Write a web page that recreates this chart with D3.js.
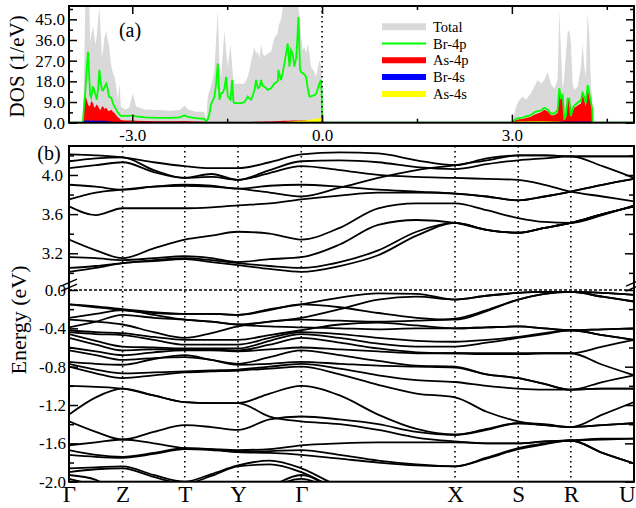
<!DOCTYPE html>
<html><head><meta charset="utf-8">
<script src="https://cdn.jsdelivr.net/npm/d3@7"></script>
<style>html,body{margin:0;padding:0;background:#fff}text{font-family:"Liberation Serif","Times New Roman",serif}</style>
</head><body>
<svg id="chart" width="636" height="508"></svg>
<script>
// ---------- (a) projected density of states ----------
const dosEnergy = [-4.00,-3.79,-3.78,-3.76,-3.74,-3.72,-3.70,-3.68,-3.665,-3.65,-3.62,-3.60,-3.58,-3.56,-3.54,-3.52,-3.50,-3.48,-3.46,-3.44,-3.41,-3.39,-3.37,-3.33,-3.30,-3.28,-3.26,-3.23,-3.20,-3.18,-3.12,-3.05,-2.99,-2.94,-2.80,-2.60,-2.40,-2.25,-2.175,-2.12,-2.00,-1.86,-1.833,-1.806,-1.78,-1.754,-1.72,-1.701,-1.675,-1.648,-1.622,-1.596,-1.569,-1.543,-1.517,-1.49,-1.448,-1.422,-1.40,-1.385,-1.33,-1.28,-1.227,-1.174,-1.148,-1.12,-1.069,-1.043,-1.016,-0.99,-0.964,-0.94,-0.911,-0.858,-0.806,-0.753,-0.70,-0.69,-0.648,-0.62,-0.595,-0.57,-0.543,-0.516,-0.49,-0.465,-0.438,-0.41,-0.395,-0.374,-0.348,-0.332,-0.306,-0.279,-0.253,-0.227,-0.20,-0.174,-0.121,-0.095,-0.042,-0.016,-0.005,0.0,
  2.99,3.012,3.065,3.117,3.17,3.223,3.302,3.354,3.407,3.46,3.512,3.565,3.617,3.67,3.723,3.749,3.775,3.802,3.828,3.854,3.881,3.907,3.933,3.96,3.986,4.039,4.092,4.118,4.144,4.17,4.197,4.223,4.249,4.27,4.276,4.93];
const dosTotal = [0,0,1,24,55,60,60,52,35,38,42,38,34,38,45,50,40,28.7,32,37,40,36,34,24.4,21,20,17,10,17,7,5.7,6.5,12.8,7,5.8,5.5,5.2,5.5,7.5,5.8,4.8,4.8,1,11.3,14,16,20,23.4,36,49,24.4,20,30,40,31,24.4,34,25,18,17,17,17,17,20,23,27,33,30,31,28,34,30,29,30,31,37,38.9,42,45,50,55,55,55,55,55,55,55,55,55,50,44.7,38,31.6,33,30,34.5,30,24.4,22,20,27.3,24.4,20,0,
  0,0.5,7,9.9,11.3,10,12.8,15.7,18.6,17.1,18.6,22,16.9,14.8,18.6,49,31.6,14.3,20,30,39,40.3,34.5,16.9,14.3,15.7,24.4,34.6,24.4,20,47.6,38.9,17,10,0,0];
const dosBr4p = [0,0,0.5,8,14,24,31,20,12,11,15.8,14,12,10,15,23,18,14.3,14,15.5,17,15,11.4,10.7,8,7,6,4.5,3.5,3,3,3,3.2,2.8,2.3,2.1,2.1,2.3,3.2,2.5,2.0,1.7,0.5,1.5,4,8,10,11.3,17,25.8,10,12.8,13,15,20,11.4,10,18.6,9,8.5,8.5,8.5,9,11.4,10.5,10,14,18.6,15,15.5,18.6,16,15.7,14.3,15,17.1,18,23,18.6,22,25.8,30,34.5,24.4,31.6,30,24.4,28,34.5,46,23,22,21.6,21,20,15,11.4,11.5,12,12.5,17.1,18.6,12,0,
  0,0.3,1.8,2.0,2.2,2.8,3.3,4.5,5,5.3,6.5,5.8,4,4,5.5,15,11,12,2,3,10.5,10.5,3,6,7.5,8.7,9.8,13.5,11,8.5,16.4,13,9,6,0,0];
const dosAs4p = [0,0,0.5,9,11.5,10,8,7,7.5,9.5,8.5,6.5,7,8,7,6,5.5,7,7.1,6,6.5,5.5,5,5.6,4.5,4.2,3.5,2.5,1.8,1.2,1,1,1,0.8,0.7,0.6,0.6,0.6,0.7,0.6,0.5,0.4,0.2,0.3,0.3,0.3,0.3,0.3,0.3,0.3,0.3,0.3,0.3,0.3,0.3,0.3,0.3,0.3,0.3,0.3,0.3,0.3,0.3,0.3,0.3,0.3,0.4,0.4,0.4,0.4,0.4,0.4,0.5,0.5,0.5,0.6,0.6,0.7,0.7,0.8,0.8,0.9,0.9,0.9,1.0,1.0,1.0,1.0,1.0,1.0,1.0,1.1,1.1,1.1,1.1,1.1,1.1,1.2,1.2,1.2,1.2,1.2,1.2,0,
  0,0.3,1.2,1.5,1.6,2,2.6,3.5,4,4.5,5.6,5,3.2,3.2,4.2,14,10,11.4,1,2,9.9,9.9,2.4,5,6.5,7.5,8.4,12.5,10,7,15.7,11.4,8.4,5,0,0];
const dosBr4s = [0,0,0.2,0.8,1.0,1.0,1.0,1.0,1.0,1.0,1.0,0.9,0.9,0.9,0.9,0.9,0.8,0.8,0.8,0.8,0.7,0.6,0.5,0.4,0.3,0.3,0.3,0.2,0.2,0.1,0.1,0.1,0.1,0.1,0.1,0.1,0.1,0.1,0.1,0.1,0.1,0.1,0,0,0,0,0,0,0,0,0,0,0,0,0,0,0,0,0,0,0,0,0,0,0,0,0,0,0,0,0,0,0,0,0,0,0,0,0,0,0,0,0,0,0,0,0,0,0,0,0,0,0,0,0,0,0,0,0,0,0,0,0,0,
  0,0,0.1,0.1,0.1,0.1,0.1,0.2,0.2,0.2,0.2,0.2,0.2,0.2,0.3,0.5,0.5,0.5,0.4,0.4,0.5,0.5,0.4,0.4,0.4,0.4,0.4,0.5,0.5,0.4,0.5,0.5,0.4,0.3,0,0];
const dosAs4s = [0,0,0,0.1,0.2,0.2,0.2,0.2,0.2,0.2,0.2,0.2,0.2,0.2,0.2,0.2,0.2,0.2,0.2,0.2,0.2,0.2,0.2,0.2,0.2,0.2,0.2,0.2,0.2,0.2,0.2,0.2,0.2,0.2,0.2,0.2,0.2,0.2,0.2,0.2,0.2,0.1,0,0.1,0.1,0.1,0.1,0.1,0.1,0.1,0.1,0.1,0.1,0.1,0.1,0.1,0.1,0.1,0.1,0.1,0.1,0.1,0.1,0.1,0.1,0.1,0.1,0.1,0.1,0.1,0.1,0.1,0.1,0.1,0.1,0.1,0.2,0.2,0.2,0.3,0.3,0.4,0.4,0.5,0.5,0.6,0.6,0.7,0.7,0.8,0.8,0.9,1.0,1.0,1.1,1.2,1.3,1.4,1.6,1.7,1.9,2.0,2.0,0,
  0,0.2,0.5,0.6,0.6,0.6,0.7,0.7,0.7,0.7,0.7,0.6,0.6,0.5,0.5,0.5,0.4,0.4,0.3,0.3,0.3,0.3,0.3,0.3,0.3,0.3,0.3,0.3,0.3,0.3,0.3,0.3,0.3,0.2,0,0];
const dosSeriesNames = ["Total","Br-4p","As-4p","Br-4s","As-4s"];
const dosSeriesColors = ["#d9d9d9","#00ff00","#ff0000","#0000ff","#ffff00"];
const dosMajorTicks = [0,9,18,27,36,45];
const dosMinorTicks = [4.5,13.5,22.5,31.5,40.5,49.5];
const energyMajorTicks = [-3,0,3];
const energyMinorTicks = [-1.5,1.5,4.5];

// ---------- (b) band structure ----------
const kPointLabels = ["\u0393","Z","T","Y","\u0393","X","S","R","U"];
const kPointDist = [0,0.537,1.160,1.693,2.327,3.867,4.500,5.027,5.660];
const kSamples = [0,0.2685,0.537,0.8485,1.160,1.4265,1.693,2.010,2.327,2.712,3.097,3.482,3.867,4.1835,4.500,4.7635,5.027,5.3435,5.660];
const conductionBands = [
  [4.21,4.20,4.18,4.13,4.09,4.07,4.07,4.13,4.21,4.23,4.22,4.15,4.10,4.17,4.20,4.20,4.19,4.19,4.19],
  [4.14,4.17,4.18,4.05,3.97,4.01,3.95,4.05,4.14,4.15,4.13,4.08,4.06,4.11,4.15,4.17,4.19,4.09,3.97],
  [4.07,4.10,4.13,4.03,3.97,3.98,3.95,4.02,4.09,4.05,4.00,3.98,3.97,3.96,3.95,3.90,3.83,3.78,3.73],
  [3.90,3.88,3.85,3.88,3.90,3.89,3.86,3.89,3.90,3.88,3.85,3.83,3.81,3.78,3.74,3.78,3.83,3.90,3.96],
  [3.75,3.82,3.85,3.88,3.89,3.88,3.86,3.82,3.78,3.87,3.97,4.05,4.10,4.15,4.20,4.20,4.19,4.19,4.19],
  [3.68,3.59,3.66,3.66,3.66,3.67,3.69,3.71,3.75,3.79,3.82,3.82,3.81,3.78,3.74,3.78,3.83,3.90,3.96],
  [3.34,3.23,3.15,3.25,3.34,3.38,3.42,3.40,3.34,3.46,3.66,3.71,3.71,3.64,3.56,3.52,3.51,3.59,3.69],
  [3.16,3.15,3.13,3.15,3.17,3.15,3.11,3.14,3.16,3.29,3.49,3.54,3.51,3.44,3.41,3.46,3.51,3.60,3.68],
  [3.05,3.07,3.10,3.13,3.15,3.13,3.10,3.07,3.05,3.11,3.23,3.42,3.51,3.44,3.41,3.46,3.51,3.60,3.68],
  [3.01,3.05,3.10,3.12,3.14,3.11,3.08,3.04,3.01,3.07,3.18,3.38,3.51,3.44,3.41,3.46,3.51,3.60,3.68]
];
const valenceBands = [
  [-0.15,-0.17,-0.20,-0.23,-0.25,-0.25,-0.26,-0.20,-0.15,-0.08,-0.035,-0.04,-0.10,-0.06,-0.03,-0.02,-0.02,-0.03,-0.05],
  [-0.15,-0.18,-0.21,-0.24,-0.25,-0.25,-0.26,-0.21,-0.15,-0.18,-0.24,-0.29,-0.31,-0.22,-0.10,-0.04,-0.02,-0.07,-0.12],
  [-0.29,-0.25,-0.21,-0.26,-0.31,-0.33,-0.36,-0.33,-0.29,-0.20,-0.10,-0.07,-0.10,-0.06,-0.03,-0.02,-0.02,-0.03,-0.05],
  [-0.31,-0.33,-0.36,-0.44,-0.50,-0.45,-0.38,-0.33,-0.31,-0.32,-0.33,-0.32,-0.30,-0.21,-0.10,-0.04,-0.02,-0.07,-0.12],
  [-0.39,-0.33,-0.26,-0.29,-0.31,-0.33,-0.36,-0.38,-0.39,-0.40,-0.41,-0.40,-0.40,-0.39,-0.38,-0.40,-0.42,-0.41,-0.40],
  [-0.42,-0.44,-0.45,-0.49,-0.52,-0.52,-0.52,-0.47,-0.42,-0.36,-0.34,-0.37,-0.40,-0.39,-0.38,-0.40,-0.42,-0.41,-0.40],
  [-0.44,-0.46,-0.47,-0.52,-0.57,-0.57,-0.57,-0.50,-0.44,-0.46,-0.50,-0.53,-0.54,-0.52,-0.49,-0.45,-0.42,-0.47,-0.52],
  [-0.46,-0.53,-0.59,-0.60,-0.61,-0.61,-0.61,-0.53,-0.46,-0.50,-0.56,-0.59,-0.59,-0.55,-0.50,-0.46,-0.42,-0.47,-0.52],
  [-0.50,-0.57,-0.63,-0.62,-0.62,-0.62,-0.63,-0.57,-0.50,-0.55,-0.61,-0.65,-0.66,-0.66,-0.66,-0.66,-0.66,-0.59,-0.52],
  [-0.60,-0.64,-0.68,-0.65,-0.63,-0.63,-0.64,-0.62,-0.60,-0.62,-0.64,-0.66,-0.66,-0.67,-0.67,-0.66,-0.66,-0.78,-0.89],
  [-0.63,-0.68,-0.73,-0.71,-0.70,-0.73,-0.77,-0.70,-0.63,-0.68,-0.74,-0.79,-0.80,-0.88,-0.92,-0.98,-1.04,-0.96,-0.89],
  [-0.75,-0.77,-0.78,-0.72,-0.68,-0.73,-0.78,-0.77,-0.75,-0.77,-0.79,-0.80,-0.81,-0.88,-0.92,-0.98,-1.04,-1.03,-1.03],
  [-0.77,-0.83,-0.87,-0.86,-0.85,-0.84,-0.83,-0.80,-0.77,-0.82,-0.89,-0.94,-0.96,-1.00,-1.03,-1.04,-1.04,-1.03,-1.03],
  [-0.80,-0.87,-0.92,-0.89,-0.86,-0.85,-0.84,-0.82,-0.80,-0.88,-0.99,-1.08,-1.12,-1.27,-1.37,-1.41,-1.43,-1.30,-1.17],
  [-1.00,-1.01,-1.03,-1.10,-1.17,-1.18,-1.18,-1.08,-1.00,-1.10,-1.30,-1.45,-1.51,-1.45,-1.39,-1.40,-1.43,-1.41,-1.39],
  [-1.30,-1.12,-1.03,-1.10,-1.17,-1.18,-1.18,-1.32,-1.37,-1.40,-1.46,-1.54,-1.58,-1.60,-1.60,-1.58,-1.57,-1.55,-1.55],
  [-1.37,-1.48,-1.56,-1.48,-1.41,-1.43,-1.46,-1.35,-1.32,-1.35,-1.40,-1.48,-1.51,-1.46,-1.39,-1.41,-1.43,-1.41,-1.39],
  [-1.62,-1.59,-1.56,-1.60,-1.65,-1.66,-1.67,-1.66,-1.62,-1.60,-1.59,-1.59,-1.59,-1.60,-1.60,-1.58,-1.57,-1.56,-1.55],
  [-1.67,-1.72,-1.74,-1.70,-1.65,-1.66,-1.69,-1.68,-1.67,-1.72,-1.78,-1.82,-1.84,-1.75,-1.65,-1.60,-1.57,-1.70,-1.81],
  [-1.72,-1.74,-1.75,-1.71,-1.66,-1.67,-1.69,-1.70,-1.72,-1.76,-1.80,-1.83,-1.84,-1.76,-1.66,-1.61,-1.57,-1.70,-1.81],
  [-1.86,-1.85,-1.84,-1.93,-2.00,-1.92,-1.83,-1.78,-1.86,-2.06,-2.25,-2.30,-2.30,-2.30,-2.30,-2.30,-2.30,-2.30,-2.30],
  [-1.90,-1.87,-1.86,-1.95,-2.02,-1.94,-1.84,-1.82,-1.90,-2.10,-2.30,-2.35,-2.35,-2.35,-2.35,-2.35,-2.35,-2.35,-2.35],
  [-1.93,-1.98,-2.15,-2.25,-2.25,-2.25,-2.25,-2.06,-1.93,-2.12,-2.30,-2.40,-2.40,-2.40,-2.40,-2.40,-2.40,-2.40,-2.40],
  [-1.97,-2.05,-2.20,-2.30,-2.30,-2.30,-2.30,-2.08,-1.97,-2.14,-2.32,-2.42,-2.42,-2.42,-2.42,-2.42,-2.42,-2.42,-2.42]
];
const lowerMajorTicks = [0,-0.4,-0.8,-1.2,-1.6,-2.0];
const lowerMinorTicks = [-0.2,-0.6,-1.0,-1.4,-1.8];
const upperMajorTicks = [3.2,3.6,4.0];
const upperMinorTicks = [3.0,3.4,3.8,4.2];

const svg = d3.select("#chart");
const fmt1 = d3.format(".1f");
const fmtTick = v => fmt1(v).replace("\u2212","-");

// ===== panel (a) =====
const A = {left:69, right:634, top:6, bottom:122.7};
const xE = d3.scaleLinear().domain([-4, 4.93]).range([A.left, A.right]);
const yD = d3.scaleLinear().domain([0, 50.8]).range([A.bottom, A.top]);

svg.append("clipPath").attr("id","clipA").append("rect")
  .attr("x",A.left).attr("y",A.top).attr("width",A.right-A.left).attr("height",A.bottom-A.top);
const gA = svg.append("g").attr("clip-path","url(#clipA)");
const dosRows = dosEnergy.map((e,i)=>({e, v:[dosTotal[i],dosBr4p[i],dosAs4p[i],dosBr4s[i],dosAs4s[i]]}));
const areaOf = k => d3.area().x(d=>xE(d.e)).y0(yD(0)).y1(d=>yD(d.v[k]));
gA.append("path").datum(dosRows).attr("d",areaOf(0)).attr("fill",dosSeriesColors[0]);
[2,3,4].forEach(k=>{
  gA.append("path").datum(dosRows).attr("d",areaOf(k)).attr("fill",dosSeriesColors[k]);
});
gA.append("path").datum(dosRows)
  .attr("d",d3.line().x(d=>xE(d.e)).y(d=>yD(d.v[1])))
  .attr("fill","none").attr("stroke",dosSeriesColors[1]).attr("stroke-width",1.8);
// Fermi level
gA.append("line").attr("x1",xE(0)).attr("x2",xE(0)).attr("y1",A.top).attr("y2",A.bottom)
  .attr("stroke","#000").attr("stroke-width",1.6).attr("stroke-dasharray","1.5,3.5");

function styleAxis(g){
  g.select(".domain").remove();
  g.selectAll("line").attr("stroke","#000").attr("stroke-width",1.5);
  g.selectAll("text").attr("fill","#000").style("font-family",'"Liberation Serif","Times New Roman",serif');
}
// x ticks, bottom and top
svg.append("g").attr("transform",`translate(0,${A.bottom})`)
  .call(d3.axisBottom(xE).tickValues(energyMajorTicks).tickSizeInner(-8).tickSizeOuter(0).tickPadding(6).tickFormat(fmtTick))
  .call(styleAxis).selectAll("text").style("font-size","17px");
svg.append("g").attr("transform",`translate(0,${A.bottom})`)
  .call(d3.axisBottom(xE).tickValues(energyMinorTicks).tickSizeInner(-4).tickSizeOuter(0).tickFormat(""))
  .call(styleAxis);
svg.append("g").attr("transform",`translate(0,${A.top})`)
  .call(d3.axisTop(xE).tickValues(energyMajorTicks).tickSizeInner(-8).tickSizeOuter(0).tickFormat(""))
  .call(styleAxis);
svg.append("g").attr("transform",`translate(0,${A.top})`)
  .call(d3.axisTop(xE).tickValues(energyMinorTicks).tickSizeInner(-4).tickSizeOuter(0).tickFormat(""))
  .call(styleAxis);
// y ticks, left and right
svg.append("g").attr("transform",`translate(${A.left},0)`)
  .call(d3.axisLeft(yD).tickValues(dosMajorTicks).tickSizeInner(-8).tickSizeOuter(0).tickPadding(4).tickFormat(fmtTick))
  .call(styleAxis).selectAll("text").style("font-size","17px");
svg.append("g").attr("transform",`translate(${A.left},0)`)
  .call(d3.axisLeft(yD).tickValues(dosMinorTicks).tickSizeInner(-4).tickSizeOuter(0).tickFormat(""))
  .call(styleAxis);
svg.append("g").attr("transform",`translate(${A.right},0)`)
  .call(d3.axisRight(yD).tickValues(dosMajorTicks).tickSizeInner(-8).tickSizeOuter(0).tickFormat(""))
  .call(styleAxis);
svg.append("g").attr("transform",`translate(${A.right},0)`)
  .call(d3.axisRight(yD).tickValues(dosMinorTicks).tickSizeInner(-4).tickSizeOuter(0).tickFormat(""))
  .call(styleAxis);
svg.append("rect").attr("x",A.left).attr("y",A.top).attr("width",A.right-A.left).attr("height",A.bottom-A.top)
  .attr("fill","none").attr("stroke","#000").attr("stroke-width",2);
svg.append("text").attr("x",130).attr("y",37).attr("text-anchor","middle").style("font-size","20px").text("(a)");
svg.append("text").attr("transform",`translate(24,${(A.top+A.bottom)/2+2}) rotate(-90)`)
  .attr("text-anchor","middle").style("font-size","21px").text("DOS (1/eV)");

// legend
const legWidths = [7,2,6,6,6];
const legend = svg.append("g").attr("transform","translate(382,26.7)");
dosSeriesNames.forEach((name,i)=>{
  const row = legend.append("g").attr("transform",`translate(0,${i*16.8})`);
  row.append("line").attr("x1",0).attr("x2",44).attr("y1",0).attr("y2",0)
    .attr("stroke",dosSeriesColors[i]).attr("stroke-width",legWidths[i]);
  row.append("text").attr("x",51).attr("y",5).style("font-size","14.5px").text(name);
});

// ===== panel (b) =====
const B = {left:69, right:634, top:146, bottom:481.7, brk:285.2};
const xK = d3.scaleLinear().domain([0, 5.66]).range([B.left, B.right]);
const yLow = d3.scaleLinear().domain([-2.0, 0.05]).range([B.bottom, B.brk]);
const yUp = d3.scaleLinear().domain([2.874, 4.296]).range([B.brk, B.top]);

svg.append("clipPath").attr("id","clipLow").append("rect")
  .attr("x",B.left).attr("y",B.brk).attr("width",B.right-B.left).attr("height",B.bottom-B.brk);
svg.append("clipPath").attr("id","clipUp").append("rect")
  .attr("x",B.left).attr("y",B.top).attr("width",B.right-B.left).attr("height",B.brk-B.top);

// high-symmetry guides
svg.append("g").selectAll("line").data(kPointDist.slice(1,-1)).join("line")
  .attr("x1",d=>xK(d)).attr("x2",d=>xK(d)).attr("y1",B.top).attr("y2",B.bottom)
  .attr("stroke","#000").attr("stroke-width",1.6).attr("stroke-dasharray","1.5,3.5");
svg.append("line").attr("x1",B.left).attr("x2",B.right).attr("y1",yLow(0)).attr("y2",yLow(0))
  .attr("stroke","#000").attr("stroke-width",1.3).attr("stroke-dasharray","3,2");

const bandLine = ys => d3.line().curve(d3.curveMonotoneX).x((d,i)=>xK(kSamples[i])).y(d=>ys(d));
svg.append("g").attr("clip-path","url(#clipUp)").selectAll("path").data(conductionBands).join("path")
  .attr("d",d=>bandLine(yUp)(d)).attr("fill","none").attr("stroke","#000").attr("stroke-width",1.8);
svg.append("g").attr("clip-path","url(#clipLow)").selectAll("path").data(valenceBands).join("path")
  .attr("d",d=>bandLine(yLow)(d)).attr("fill","none").attr("stroke","#000").attr("stroke-width",1.8);

// energy ticks, left and right, for both segments of the broken axis
[[yLow,lowerMajorTicks,lowerMinorTicks,3],[yUp,upperMajorTicks,upperMinorTicks,6]].forEach(([s,maj,min,pad])=>{
  svg.append("g").attr("transform",`translate(${B.left},0)`)
    .call(d3.axisLeft(s).tickValues(maj).tickSizeInner(-9).tickSizeOuter(0).tickPadding(pad).tickFormat(fmtTick))
    .call(styleAxis).selectAll("text").style("font-size","17px");
  svg.append("g").attr("transform",`translate(${B.left},0)`)
    .call(d3.axisLeft(s).tickValues(min).tickSizeInner(-5).tickSizeOuter(0).tickFormat(""))
    .call(styleAxis);
  svg.append("g").attr("transform",`translate(${B.right},0)`)
    .call(d3.axisRight(s).tickValues(maj).tickSizeInner(-9).tickSizeOuter(0).tickFormat(""))
    .call(styleAxis);
  svg.append("g").attr("transform",`translate(${B.right},0)`)
    .call(d3.axisRight(s).tickValues(min).tickSizeInner(-5).tickSizeOuter(0).tickFormat(""))
    .call(styleAxis);
});
// k-point labels
const kAxis = svg.append("g").attr("transform",`translate(0,${B.bottom})`)
  .call(d3.axisBottom(xK).tickValues(kPointDist).tickSize(0).tickPadding(4).tickFormat((d,i)=>kPointLabels[i]))
  .call(styleAxis);
kAxis.selectAll("text").style("font-size","23px");
kAxis.selectAll("text").filter((d,i)=>i===kPointLabels.length-1).attr("text-anchor","end").attr("dx","1px");

svg.append("rect").attr("x",B.left).attr("y",B.top).attr("width",B.right-B.left).attr("height",B.bottom-B.top)
  .attr("fill","none").attr("stroke","#000").attr("stroke-width",2);

// axis-break marks
const brk = svg.append("g").attr("stroke","#000").attr("stroke-width",1.4).attr("fill","none");
[B.left,B.right].forEach(x0=>{
  [0,5].forEach(o=>{
    brk.append("line").attr("x1",x0-8).attr("y1",B.brk+6-o).attr("x2",x0+8).attr("y2",B.brk-1-o);
  });
});
svg.append("text").attr("x",49).attr("y",160).attr("text-anchor","middle").style("font-size","20px").text("(b)");
svg.append("text").attr("transform",`translate(26,320) rotate(-90)`)
  .attr("text-anchor","middle").style("font-size","22px").text("Energy (eV)");
</script>
</body></html>
